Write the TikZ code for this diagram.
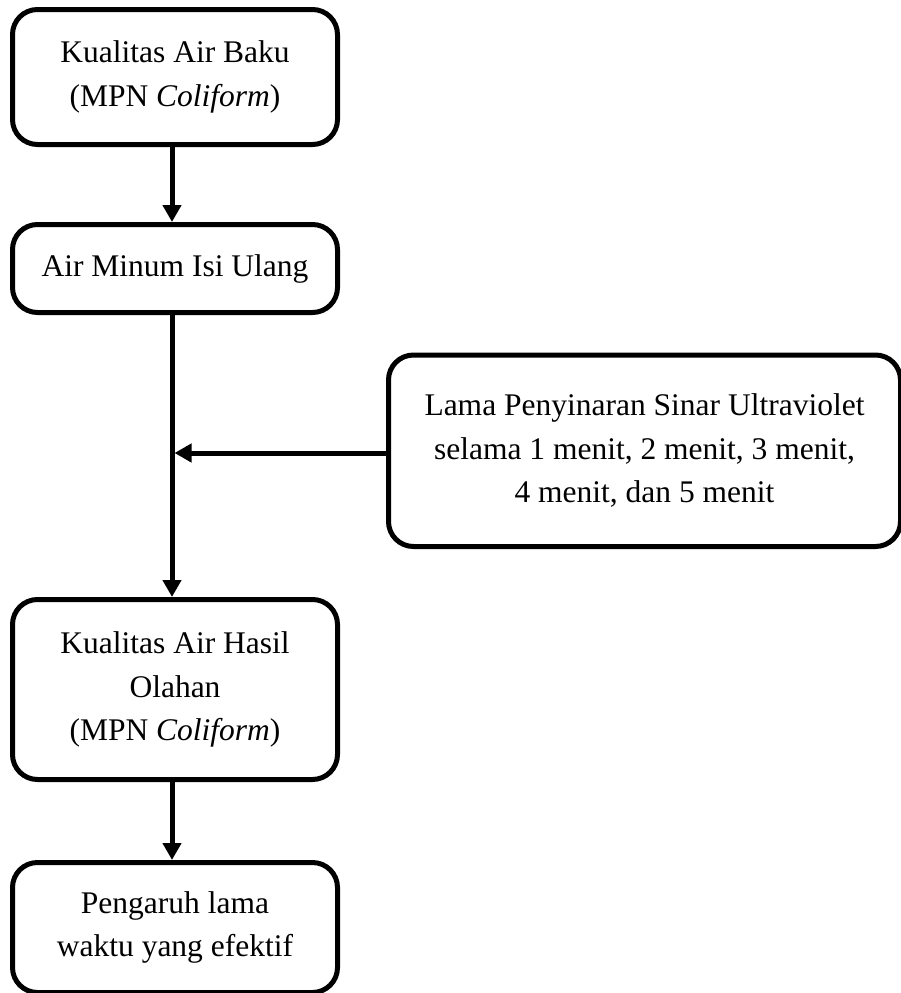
\documentclass[tikz,border=0pt]{standalone}
\usepackage{fontspec}
\setmainfont{Liberation Serif}
\usetikzlibrary{arrows.meta}
\begin{document}
\begin{tikzpicture}[x=1pt,y=-1pt,
  flowbox/.style={draw=black, line width=5pt, rounded corners=25pt, inner sep=0pt,
    align=center, font=\fontsize{31.5}{43.3}\selectfont},
  flowarrow/.style={line width=5pt, -{Triangle[length=17pt,width=18pt]}}]
\useasboundingbox (0,0) rectangle (901,993);
\node[flowbox, minimum width=325pt, minimum height=135pt] (b1) at (175,77)
  {Kualitas Air Baku\\(MPN \textit{Coliform})};
\node[flowbox, minimum width=325pt, minimum height=88pt] (b2) at (175,268.5)
  {Air Minum Isi Ulang};
\node[flowbox, minimum width=512pt, minimum height=191.5pt] (b4) at (644.5,450.75)
  {Lama Penyinaran Sinar Ultraviolet\\selama 1 menit, 2 menit, 3 menit,\\4 menit, dan 5 menit};
\node[flowbox, minimum width=325pt, minimum height=180pt] (b3) at (175,689.5)
  {Kualitas Air Hasil\\Olahan\\(MPN \textit{Coliform})};
\node[flowbox, minimum width=325pt, minimum height=130pt] (b5) at (175,927.5)
  {Pengaruh lama\\waktu yang efektif};
\coordinate (j) at (174.5,453);
\draw[flowarrow] ([xshift=-3pt]b1.south) -- ([xshift=-3pt]b2.north);
\draw[flowarrow] ([xshift=-3pt]b2.south) -- ([xshift=-3pt]b3.north);
\draw[flowarrow] ([yshift=-2.25pt]b4.west) -- (j);
\draw[flowarrow] ([xshift=-3pt]b3.south) -- ([xshift=-3pt]b5.north);
\end{tikzpicture}
\end{document}
